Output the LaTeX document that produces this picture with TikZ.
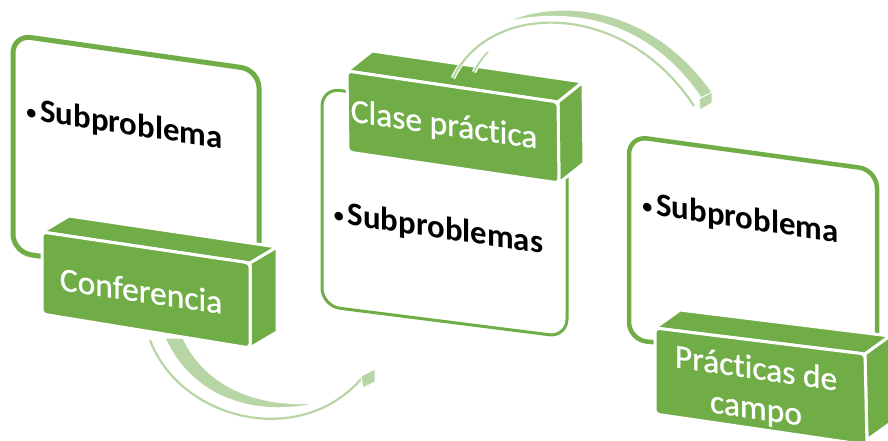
\documentclass[tikz,border=0pt]{standalone}
\usepackage{fontspec}
\setmainfont{Carlito}[Ligatures=NoCommon]
\newfontfamily\boxfont{Carlito}[FakeBold=0.8, Ligatures=NoCommon]
\definecolor{gr}{HTML}{70AD47}
\definecolor{ag}{HTML}{B8D5A6}
\begin{document}
\begin{tikzpicture}[x=1pt,y=-1pt,
  panel/.style={draw=gr, fill=white, rounded corners=18pt, line width=5pt, line join=round},
  face/.style={fill=gr, draw=white, line width=3pt, line join=round},
  frontface/.style={face, rounded corners=4pt},
  ptext/.style={text=black, font=\fontsize{32.8}{39}\selectfont\bfseries, yslant=-0.147, inner sep=0pt},
  btext/.style={text=white, font=\fontsize{33.5}{40}\selectfont\boxfont, yslant=-0.145, align=center, inner sep=0pt},
  band/.style={fill=ag, draw=white, line width=1pt, line join=round},
  thinwhite/.style={draw=white, line width=4.5pt},
  thin/.style={draw=ag, line width=2.2pt},
]
\newcommand{\bul}{{\fontsize{24}{30}\selectfont\mdseries •}\hspace{3pt}}
\useasboundingbox (0,0) rectangle (888,440);

% ---------- panel 1 ----------
\draw[panel] (13,35)--(259,70)--(259,290)--(13,252)--cycle;

% ---------- bottom arrow ----------
\coordinate (ba0) at (150,340);
\coordinate (ba1) at (362,378);
\draw[thinwhite] (ba0) .. controls (180,420) and (300,450) .. (ba1);
\draw[thin] (ba0) .. controls (180,420) and (300,450) .. (ba1);
\filldraw[band] (165,338) .. controls (192,398) and (255,418) .. (318,403)
   .. controls (255,408) and (205,385) .. (183,338) -- cycle;
\filldraw[band] (361,376) -- (375,369) -- (375,382) -- (363,388) -- cycle;

% ---------- box 1 ----------
\filldraw[face] (42,232)--(250,263)--(277,247)--(69,216)--cycle;
\filldraw[face] (250,263)--(277,247)--(277,332)--(250,348)--cycle;
\filldraw[frontface] (42,232)--(250,263)--(250,348)--(42,314)--cycle;

% ---------- panel 2 ----------
\draw[panel, line width=3pt] (322,88)--(567,122)--(567,337)--(322,306)--cycle;

% ---------- box 2 ----------
\filldraw[face] (347,71)--(558,102)--(583,82)--(372,51)--cycle;
\filldraw[face] (558,102)--(583,82)--(584,163)--(559,183)--cycle;
\filldraw[frontface] (347,71)--(558,102)--(559,183)--(348,152)--cycle;

% ---------- top arrow ----------
\coordinate (ta0) at (453,78);
\coordinate (ta1) at (694,106);
\draw[thinwhite] (ta0) .. controls (490,0) and (625,0) .. (ta1);
\draw[thin] (ta0) .. controls (490,0) and (625,0) .. (ta1);
\draw[thinwhite] (474,72) .. controls (478,64) and (482,58) .. (488,52);
\draw[thin, line width=1.8pt] (474,72) .. controls (478,64) and (482,58) .. (488,52);
\filldraw[band] (505,22) .. controls (560,-2) and (650,5) .. (712,92)
   -- (702,99) .. controls (645,15) and (565,8) .. (505,22) -- cycle;
\filldraw[band] (699,99) -- (712,92) -- (712,103) -- (700,110) -- cycle;

% ---------- panel 3 ----------
\draw[panel, line width=4.5pt] (629,136)--(877,170)--(877,362)--(629,340)--cycle;

% ---------- box 3 ----------
\filldraw[face] (655,328)--(865,354)--(890,336)--(680,310)--cycle;
\filldraw[face] (865,354)--(890,336)--(892,422)--(867,440)--cycle;
\filldraw[frontface] (655,328)--(865,354)--(867,445)--(655,414)--cycle;

% ---------- texts ----------
\node[ptext, anchor=base] (p1) at (124,134) {\bul Subproblema};
\node[btext, anchor=base] (b1) at (141,302) {Conferencia};
\node[btext, anchor=base] (b2) at (444,135) {Clase práctica};
\node[ptext, anchor=base] (p2) at (438,238) {\bul Subproblemas};
\node[ptext, anchor=base] (p3) at (740,228) {\bul Subproblema};
\node[btext] (b3) at (756,390) {Prácticas de\\campo};
\end{tikzpicture}
\end{document}
